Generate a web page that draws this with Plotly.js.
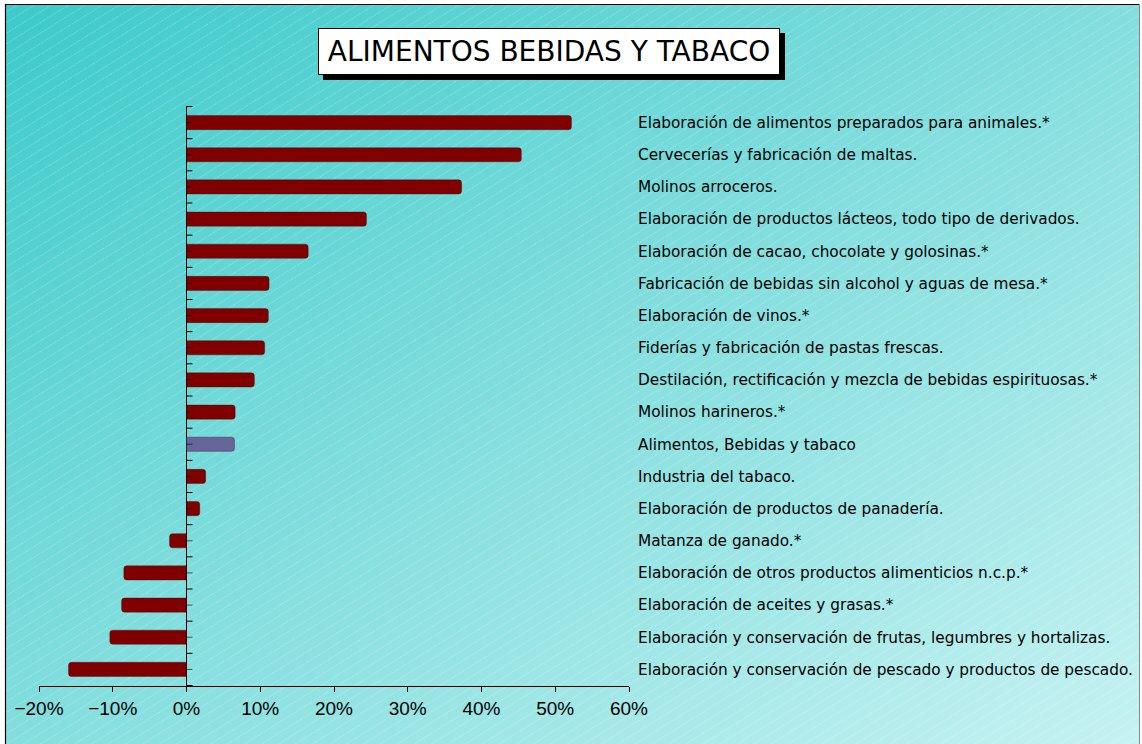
<!DOCTYPE html>
<html>
<head>
<meta charset="utf-8">
<script src="https://cdn.plot.ly/plotly-3.0.1.min.js"></script>
<style>
html,body{margin:0;padding:0;background:#fff;}
#chart{width:1142px;height:744px;}
</style>
</head>
<body>
<div id="chart"></div>
<script>
// ---- data ----
const categories = [
  "Elaboración de alimentos preparados para animales.*",
  "Cervecerías y fabricación de maltas.",
  "Molinos arroceros.",
  "Elaboración de productos lácteos, todo tipo de derivados.",
  "Elaboración de cacao, chocolate y golosinas.*",
  "Fabricación de bebidas sin alcohol y aguas de mesa.*",
  "Elaboración de vinos.*",
  "Fiderías y fabricación de pastas frescas.",
  "Destilación, rectificación y mezcla de bebidas espirituosas.*",
  "Molinos harineros.*",
  "Alimentos, Bebidas y tabaco",
  "Industria del tabaco.",
  "Elaboración de productos de panadería.",
  "Matanza de ganado.*",
  "Elaboración de otros productos alimenticios n.c.p.*",
  "Elaboración de aceites y grasas.*",
  "Elaboración y conservación de frutas, legumbres y hortalizas.",
  "Elaboración y conservación de pescado y productos de pescado."
];
const values = [52.2, 45.4, 37.3, 24.4, 16.5, 11.2, 11.1, 10.6, 9.2, 6.6, 6.5, 2.6, 1.8, -2.3, -8.5, -8.8, -10.4, -16.0];
const totalCategory = "Alimentos, Bebidas y tabaco";
const xTickValues = [-20, -10, 0, 10, 20, 30, 40, 50, 60];
const titleText = "ALIMENTOS BEBIDAS Y TABACO";

// ---- layout geometry ----
const W = 1142, H = 744;
const M = {l: 39, r: 513, t: 106, b: 58};
const PW = W - M.l - M.r, PH = H - M.t - M.b;
const px2x = p => (p - M.l) / PW;
const px2y = p => 1 - (p - M.t) / PH;

const barColors = categories.map(c => c === totalCategory ? "#666699" : "#800000");

// background: diagonal gradient with fine dashed stripes + frame
const bgSvg = `<svg xmlns="http://www.w3.org/2000/svg" width="${W}" height="${H}" viewBox="0 0 ${W} ${H}">
<defs>
<linearGradient id="g" x1="0" y1="0" x2="1" y2="1">
<stop offset="0" stop-color="#3ccaca"/>
<stop offset="0.5" stop-color="#84dede"/>
<stop offset="1" stop-color="#c6f2f2"/>
</linearGradient>
<pattern id="p" width="9" height="9" patternUnits="userSpaceOnUse" patternTransform="rotate(-32)">
<line x1="0" y1="4.5" x2="9" y2="4.5" stroke="#ffffff" stroke-opacity="0.35" stroke-width="0.7" stroke-dasharray="2 1.2"/>
</pattern>
</defs>
<rect x="0" y="0" width="${W}" height="${H}" fill="#ffffff"/>
<rect x="5" y="4" width="${W-7}" height="${H-4}" fill="url(#g)"/>
<rect x="5" y="4" width="${W-7}" height="${H-4}" fill="url(#p)"/>
<line x1="5.5" y1="4" x2="5.5" y2="${H}" stroke="#000" stroke-width="1.2"/>
<line x1="5" y1="4.5" x2="${W-2}" y2="4.5" stroke="#000" stroke-width="1.2"/>
<line x1="${W-2.5}" y1="4" x2="${W-2.5}" y2="${H}" stroke="#888" stroke-width="1"/>
</svg>`;
const bgUri = "data:image/svg+xml;charset=utf-8," + encodeURIComponent(bgSvg);

// y-axis tick marks (boundaries and centres) drawn at x = 0
const shapes = [];
for (let i = 0; i <= categories.length; i++) {
  shapes.push({type: "line", xref: "x", yref: "y", xsizemode: "pixel", xanchor: 0,
    x0: 0, x1: 6, y0: i - 0.5, y1: i - 0.5, line: {color: "#000", width: 1}, layer: "above"});
}
for (let i = 0; i < categories.length; i++) {
  shapes.push({type: "line", xref: "x", yref: "y", xsizemode: "pixel", xanchor: 0,
    x0: 0, x1: 6, y0: i, y1: i, line: {color: "rgba(0,0,0,0.6)", width: 1}, layer: "above"});
}
// title box shadow
shapes.push({type: "rect", xref: "paper", yref: "paper",
  x0: px2x(323), x1: px2x(785), y0: px2y(33), y1: px2y(80),
  fillcolor: "#000", line: {width: 0}, layer: "above"});

const trace = {
  type: "bar",
  orientation: "h",
  x: values,
  y: categories,
  marker: {color: barColors, cornerradius: 3, line: {color: "rgba(60,0,0,0.35)", width: 1}},
  hoverinfo: "x+y"
};

const layout = {
  width: W, height: H,
  margin: M,
  paper_bgcolor: "#ffffff",
  plot_bgcolor: "rgba(0,0,0,0)",
  showlegend: false,
  bargap: 0.56,
  font: {family: "DejaVu Sans, Verdana, sans-serif", color: "#000"},
  images: [{
    source: bgUri, xref: "paper", yref: "paper",
    x: -M.l / PW, y: 1 + M.t / PH, sizex: W / PW, sizey: H / PH,
    xanchor: "left", yanchor: "top", sizing: "stretch", layer: "below"
  }],
  xaxis: {
    range: [-20, 60],
    tickvals: xTickValues,
    ticktext: xTickValues.map(v => (v < 0 ? "\u2212" + Math.abs(v) : v) + "%"),
    showgrid: false,
    zeroline: true, zerolinecolor: "#000", zerolinewidth: 1,
    showline: true, linecolor: "#000", linewidth: 1,
    ticks: "outside", ticklen: 5, tickcolor: "#000", tickwidth: 1,
    tickfont: {family: "Liberation Sans, Arial, sans-serif", size: 19, color: "#000"},
    fixedrange: true
  },
  yaxis: {
    type: "category",
    categoryorder: "array", categoryarray: categories,
    autorange: "reversed",
    side: "right",
    showgrid: false, zeroline: false, showline: false,
    ticks: "",
    ticklabelstandoff: 8,
    tickfont: {family: "DejaVu Sans, Verdana, sans-serif", size: 15.3, color: "#000"},
    fixedrange: true
  },
  shapes: shapes,
  annotations: [
    {text: titleText, xref: "paper", yref: "paper", x: px2x(549), y: px2y(51.5),
     xanchor: "center", yanchor: "middle", showarrow: false,
     width: 458, height: 43, bgcolor: "#ffffff", bordercolor: "#000", borderwidth: 1, borderpad: 1,
     font: {family: "DejaVu Sans, Verdana, sans-serif", size: 28, color: "#000"}}
  ]
};

Plotly.newPlot("chart", [trace], layout, {displayModeBar: false, staticPlot: true});
</script>
</body>
</html>
